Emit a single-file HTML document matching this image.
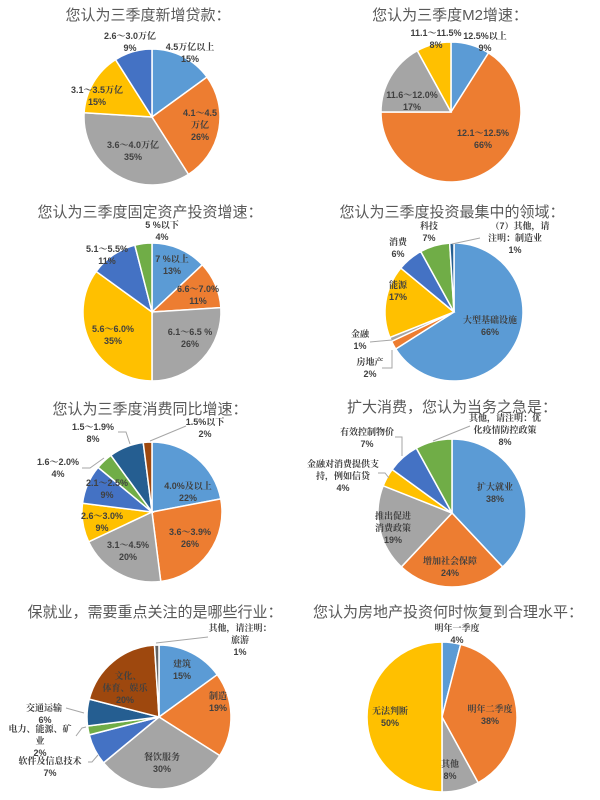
<!DOCTYPE html>
<html><head><meta charset="utf-8"><style>
html,body{margin:0;padding:0;background:#fff;}
svg{display:block;}
.t{font-family:"Liberation Sans","Noto Sans CJK SC",sans-serif;font-size:15px;fill:#595959;text-anchor:middle;}
.l{font-family:"Liberation Sans","Noto Serif CJK SC",serif;font-size:9px;fill:#404040;text-anchor:middle;font-weight:bold;}
.ll{stroke:#a6a6a6;stroke-width:1;fill:none;}
</style></head><body>
<svg id="s" width="600" height="800" viewBox="0 0 600 800" xmlns="http://www.w3.org/2000/svg">
<g id="pies"></g>
<text class="t" x="148" y="20">您认为三季度新增贷款：</text>
<text class="t" x="450" y="20">您认为三季度M2增速：</text>
<text class="t" x="150" y="217">您认为三季度固定资产投资增速：</text>
<text class="t" x="452" y="217">您认为三季度投资最集中的领域：</text>
<text class="t" x="150" y="414">您认为三季度消费同比增速：</text>
<text class="t" x="452" y="412">扩大消费，您认为当务之急是：</text>
<text class="t" x="155" y="617">保就业，需要重点关注的是哪些行业：</text>
<text class="t" x="448" y="617">您认为房地产投资何时恢复到合理水平：</text>

<text class="l" x="130" y="39">2.6～3.0万亿</text><text class="l" x="130" y="51">9%</text>
<text class="l" x="190" y="50">4.5万亿以上</text><text class="l" x="190" y="62">15%</text>
<text class="l" x="97" y="93">3.1～3.5万亿</text><text class="l" x="97" y="105">15%</text>
<text class="l" x="200" y="116">4.1～4.5</text><text class="l" x="200" y="128">万亿</text><text class="l" x="200" y="140">26%</text>
<text class="l" x="133" y="148">3.6～4.0万亿</text><text class="l" x="133" y="160">35%</text>

<text class="l" x="436" y="36">11.1～11.5%</text><text class="l" x="436" y="48">8%</text>
<text class="l" x="485" y="39">12.5%以上</text><text class="l" x="485" y="51">9%</text>
<text class="l" x="412" y="98">11.6～12.0%</text><text class="l" x="412" y="110">17%</text>
<text class="l" x="483" y="136">12.1～12.5%</text><text class="l" x="483" y="148">66%</text>

<text class="l" x="162" y="228">5 %以下</text><text class="l" x="162" y="240">4%</text>
<text class="l" x="107" y="252">5.1～5.5%</text><text class="l" x="107" y="264">11%</text>
<text class="l" x="172" y="262">7 %以上</text><text class="l" x="172" y="274">13%</text>
<text class="l" x="198" y="292">6.6～7.0%</text><text class="l" x="198" y="304">11%</text>
<text class="l" x="113" y="332">5.6～6.0%</text><text class="l" x="113" y="344">35%</text>
<text class="l" x="190" y="335">6.1～6.5 %</text><text class="l" x="190" y="347">26%</text>

<text class="l" x="429" y="229">科技</text><text class="l" x="429" y="241">7%</text>
<text class="l" x="520" y="229">（7）其他，请</text><text class="l" x="515" y="241">注明：制造业</text><text class="l" x="515" y="253">1%</text>
<text class="l" x="398" y="245">消费</text><text class="l" x="398" y="257">6%</text>
<text class="l" x="398" y="288">能源</text><text class="l" x="398" y="300">17%</text>
<text class="l" x="490" y="323">大型基础设施</text><text class="l" x="490" y="335">66%</text>
<text class="l" x="360" y="337">金融</text><text class="l" x="360" y="349">1%</text>
<text class="l" x="370" y="365">房地产</text><text class="l" x="370" y="377">2%</text>
<path class="ll" d="M370 342 L392 340"/><path class="ll" d="M382 368 L392 368 L392 350"/><path class="ll" d="M452 244 L480 238"/>

<text class="l" x="93" y="430">1.5～1.9%</text><text class="l" x="93" y="442">8%</text>
<text class="l" x="205" y="425">1.5%以下</text><text class="l" x="205" y="437">2%</text>
<text class="l" x="58" y="465">1.6～2.0%</text><text class="l" x="58" y="477">4%</text>
<text class="l" x="107" y="486">2.1～2.5%</text><text class="l" x="107" y="498">9%</text>
<text class="l" x="188" y="489">4.0%及以上</text><text class="l" x="188" y="501">22%</text>
<text class="l" x="102" y="519">2.6～3.0%</text><text class="l" x="102" y="531">9%</text>
<text class="l" x="190" y="535">3.6～3.9%</text><text class="l" x="190" y="547">26%</text>
<text class="l" x="128" y="548">3.1～4.5%</text><text class="l" x="128" y="560">20%</text>
<path class="ll" d="M118 432 L126 432 L130 444"/><path class="ll" d="M82 468 L90 468 L104 458"/><path class="ll" d="M186 426 L150 441"/>

<text class="l" x="505" y="421">其他，请注明：优</text><text class="l" x="505" y="433">化疫情防控政策</text><text class="l" x="505" y="445">8%</text>
<text class="l" x="367" y="435">有效控制物价</text><text class="l" x="367" y="447">7%</text>
<text class="l" x="343" y="467">金融对消费提供支</text><text class="l" x="343" y="479">持，例如信贷</text><text class="l" x="343" y="491">4%</text>
<text class="l" x="495" y="490">扩大就业</text><text class="l" x="495" y="502">38%</text>
<text class="l" x="393" y="519">推出促进</text><text class="l" x="393" y="531">消费政策</text><text class="l" x="393" y="543">19%</text>
<text class="l" x="450" y="564">增加社会保障</text><text class="l" x="450" y="576">24%</text>
<path class="ll" d="M395 437 L402 437 L402 456"/><path class="ll" d="M378 473 L385 473 L389 478"/><path class="ll" d="M470 426 L433 441"/>

<text class="l" x="240" y="631">其他，请注明：</text><text class="l" x="240" y="643">旅游</text><text class="l" x="240" y="655">1%</text>
<text class="l" x="182" y="667">建筑</text><text class="l" x="182" y="679">15%</text>
<text class="l" x="128" y="679">文化、</text><text class="l" x="125" y="691">体育、娱乐</text><text class="l" x="125" y="703">20%</text>
<text class="l" x="218" y="699">制造</text><text class="l" x="218" y="711">19%</text>
<text class="l" x="44" y="711">交通运输</text><text class="l" x="45" y="723">6%</text>
<text class="l" x="40" y="732">电力、能源、矿</text><text class="l" x="40" y="744">业</text><text class="l" x="40" y="756">2%</text>
<text class="l" x="162" y="760">餐饮服务</text><text class="l" x="162" y="772">30%</text>
<text class="l" x="50" y="764">软件及信息技术</text><text class="l" x="50" y="776">7%</text>
<path class="ll" d="M208 637 L156 643"/><path class="ll" d="M66 708 L84 713"/><path class="ll" d="M76 736 L82 728 L86 727"/><path class="ll" d="M88 762 L92 762 L98 755"/>

<text class="l" x="457" y="631">明年一季度</text><text class="l" x="457" y="643">4%</text>
<text class="l" x="390" y="714">无法判断</text><text class="l" x="390" y="726">50%</text>
<text class="l" x="490" y="712">明年二季度</text><text class="l" x="490" y="724">38%</text>
<text class="l" x="450" y="767">其他</text><text class="l" x="450" y="779">8%</text>
</svg>
<script>
var B='#5B9BD5',O='#ED7D31',G='#A5A5A5',Y='#FFC000',D='#4472C4',N='#70AD47',V='#255E91',R='#9E480E',K='#636363';
var pies=[
[152,117,68,[[15,B],[26,O],[35,G],[15,Y],[9,D]]],
[451,112,70,[[9,B],[66,O],[17,G],[8,Y]]],
[152,312,69,[[13,B],[11,O],[26,G],[35,Y],[11,D],[4,N]]],
[454,312,69,[[66,B],[2,O],[1,G],[17,Y],[6,D],[7,N],[1,V]]],
[152,512,70,[[22,B],[26,O],[20,G],[9,Y],[9,D],[4,N],[8,V],[2,R]]],
[452,513,74,[[38,B],[24,O],[19,G],[4,Y],[7,D],[8,N]]],
[159,717,72,[[15,B],[19,O],[30,G],[7,D],[2,N],[6,V],[20,R],[1,K]]],
[442,717,75,[[4,B],[38,O],[8,G],[50,Y]]]
];
var g=document.getElementById('pies'),h='';
pies.forEach(function(p){
 var cx=p[0],cy=p[1],r=p[2],a=0,tot=0;p[3].forEach(function(s){tot+=s[0];});
 p[3].forEach(function(s){
  var a0=a/tot*2*Math.PI,a1=(a+s[0])/tot*2*Math.PI;a+=s[0];
  var x0=cx+r*Math.sin(a0),y0=cy-r*Math.cos(a0),x1=cx+r*Math.sin(a1),y1=cy-r*Math.cos(a1);
  var lg=(a1-a0)>Math.PI?1:0;
  h+='<path d="M'+cx+' '+cy+' L'+x0.toFixed(2)+' '+y0.toFixed(2)+' A'+r+' '+r+' 0 '+lg+' 1 '+x1.toFixed(2)+' '+y1.toFixed(2)+' Z" fill="'+s[1]+'" stroke="#fff" stroke-width="1.5"/>';
 });
});
g.innerHTML=h;
</script>
</body></html>
